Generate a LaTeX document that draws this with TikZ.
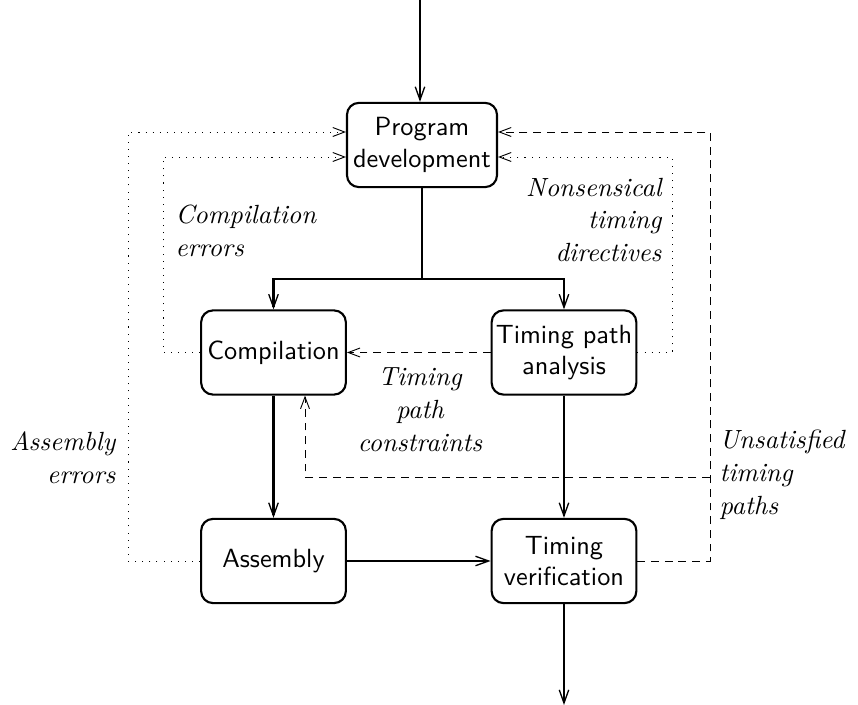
\documentclass[tikz,border=0pt]{standalone}
\usetikzlibrary{arrows.meta}
\begin{document}
\begin{tikzpicture}[x=0.38pt,y=-0.38pt,
  box/.style={draw,line width=0.8pt,rounded corners=4.5pt,align=center,
    font=\sffamily,minimum width=55pt,minimum height=32pt,inner sep=1pt},
  main/.style={line width=0.8pt,-{Straight Barb[length=5pt,width=3.6pt,line width=0.5pt]}},
  plain/.style={line width=0.8pt},
  dot/.style={line width=0.35pt,dash pattern=on 0.4pt off 2.3pt,
    -{Straight Barb[length=4.5pt,width=3.4pt,line width=0.35pt]}},
  dsh/.style={line width=0.3pt,dash pattern=on 3pt off 2.2pt,
    -{Straight Barb[length=4.5pt,width=3.4pt,line width=0.35pt]}},
  lab/.style={font={\fontsize{10}{12.5}\selectfont\itshape},inner sep=0pt}]
\useasboundingbox (0,0) rectangle (858,705);
% nodes
\node[box,minimum width=57pt] (pd) at (422,145) {Program\\development};
\node[box] (comp) at (273.5,352.5) {Compilation};
\node[box] (tpa) at (564,352.5) {Timing path\\analysis};
\node[box] (asm) at (273.5,561) {Assembly};
\node[box] (tv) at (564,561) {Timing\\verification};
% coordinates
\coordinate (top) at (420,0);
\coordinate (bot) at (564,705);
\coordinate (j) at (422,279);
\coordinate (ce) at (163,157);
\coordinate (ae) at (128,132);
\coordinate (nt) at (672,157);
\coordinate (ut) at (710,132);
\coordinate (tc1) at (710,477);
\coordinate (tc2) at (305,477);
% main flow
\draw[main] (top) -- (top |- pd.north);
\draw[plain] (pd.south) -- (j);
\draw[main] (j) -| (comp.north);
\draw[main] (j) -| (tpa.north);
\draw[main] (comp) -- (asm);
\draw[main] (tpa) -- (tv);
\draw[main] (asm) -- (tv);
\draw[main] (tv.south) -- (bot);
% feedback
\draw[dot] (comp.west) -| (ce) -- (ce -| pd.west);
\draw[dot] (asm.west) -| (ae) -- (ae -| pd.west);
\draw[dot] (tpa.east) -| (nt) -- (nt -| pd.east);
\draw[dsh] (tv.east) -| (ut) -- (ut -| pd.east);
\draw[dsh] (tpa.west) -- (comp.east);
\draw[dsh] (tc1) -- (tc2) -- (tc2 |- comp.south);
% labels
\node[lab,anchor=west,align=left] (l1) at (175,231) {Compilation\\errors};
\node[lab,anchor=east,align=right] (l2) at (662,220) {Nonsensical\\timing\\directives};
\node[lab,align=center] (l3) at (420,410) {Timing\\path\\constraints};
\node[lab,anchor=east,align=right] (l4) at (116,458) {Assembly\\errors};
\node[lab,anchor=west,align=left] (l5) at (719,475) {Unsatisfied\\timing\\paths};
\end{tikzpicture}
\end{document}
